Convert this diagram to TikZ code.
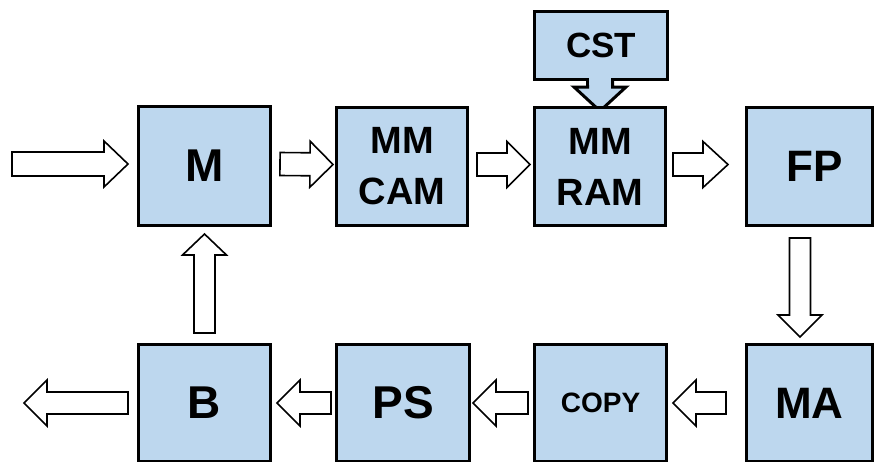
\documentclass[tikz,border=0pt]{standalone}
\usepackage{fontspec}
\setmainfont{Liberation Sans}
\usetikzlibrary{calc}
\definecolor{boxblue}{RGB}{189,215,238}

\tikzset{
  box/.style={draw=black, line width=3pt, fill=boxblue, rectangle, inner sep=0pt,
              font=\bfseries, align=center},
  % shaft half width, head half width, head length
  arrow dims/.code n args={3}{%
    \pgfmathsetmacro\baW{#1}%
    \pgfmathsetmacro\baRa{sqrt((#3)*(#3)+(#1)*(#1))}%
    \pgfmathsetmacro\baAa{atan((#1)/(#3))}%
    \pgfmathsetmacro\baRb{sqrt((#3)*(#3)+(#2)*(#2))}%
    \pgfmathsetmacro\baAb{atan((#2)/(#3))}},
  blockarrow/.style n args={3}{arrow dims={#1}{#2}{#3},
    to path={
      ($(\tikztostart)!\baW pt!90:(\tikztotarget)$)
      -- ($(\tikztotarget)!\baRa pt!-\baAa:(\tikztostart)$)
      -- ($(\tikztotarget)!\baRb pt!-\baAb:(\tikztostart)$)
      -- (\tikztotarget)
      -- ($(\tikztotarget)!\baRb pt!\baAb:(\tikztostart)$)
      -- ($(\tikztotarget)!\baRa pt!\baAa:(\tikztostart)$)
      -- ($(\tikztostart)!\baW pt!-90:(\tikztotarget)$)
      -- cycle}},
  flow/.style={draw=black, fill=white, line width=1.6pt, line join=miter},
}

\begin{document}
\begin{tikzpicture}[x=1pt, y=-1pt]
\useasboundingbox (0,0) rectangle (874,461);
\clip (0,0) rectangle (874,461);

% upper row
\node[box, minimum width=132, minimum height=119, font=\bfseries\fontsize{46}{46}\selectfont]
  (M) at (204.5,166) {M};
\node[box, minimum width=131, minimum height=118, font=\bfseries\fontsize{38}{51}\selectfont]
  (CAM) at (402,166.5) {MM\\CAM};
\node[box, minimum width=126, minimum height=118, font=\bfseries\fontsize{44}{44}\selectfont]
  (FP) at (809.5,166.5) {\hspace*{10pt}FP};

% CST feeding into MM RAM through a filled arrow joined to its lower edge
\node[box, minimum width=133, minimum height=68, font=\bfseries\fontsize{35}{35}\selectfont]
  (CST) at (601,45.5) {CST};
\coordinate (cstA) at ($(CST.south)+(-1,-1.5)$);
\coordinate (cstB) at ($(CST.south)+(-1,30)$);
\draw[draw=black, fill=boxblue, line width=3pt, line join=miter, blockarrow={12.5}{26}{24}]
  (cstA) to (cstB);
\fill[boxblue] ($(CST.south)+(-12,-5)$) rectangle ($(CST.south)+(10,4)$);
\node[box, minimum width=131, minimum height=118, font=\bfseries\fontsize{38}{51}\selectfont]
  (RAM) at (600,166.5) {MM\\RAM};

% lower row
\node[box, minimum width=132, minimum height=117, font=\bfseries\fontsize{46}{46}\selectfont]
  (B) at (204.5,403) {B};
\node[box, minimum width=133, minimum height=117, font=\bfseries\fontsize{46}{46}\selectfont]
  (PS) at (403,403) {PS};
\node[box, minimum width=132, minimum height=117, font=\bfseries\fontsize{28}{28}\selectfont]
  (COPY) at (600.5,403) {COPY};
\node[box, minimum width=126, minimum height=117, font=\bfseries\fontsize{44}{44}\selectfont]
  (MA) at (809.5,403) {MA};

% arrow end points
\coordinate (inS)  at (12,164);
\coordinate (inE)  at ($(M.west)+(-9,-2)$);
\coordinate (m1S)  at ($(M.east)+(8,-2)$);
\coordinate (m1E)  at ($(CAM.west)+(-2,-2)$);
\coordinate (c1S)  at ($(CAM.east)+(8,-2)$);
\coordinate (c1E)  at ($(RAM.west)+(-3,-2)$);
\coordinate (r1S)  at ($(RAM.east)+(6,-2)$);
\coordinate (r1E)  at ($(FP.west)+(-17,-2)$);
\coordinate (f1S)  at ($(FP.south)+(-9.5,11)$);
\coordinate (f1E)  at ($(MA.north)+(-9.5,-6)$);
\coordinate (a1S)  at ($(MA.west)+(-19,0)$);
\coordinate (a1E)  at ($(COPY.east)+(5,0)$);
\coordinate (k1S)  at ($(COPY.west)+(-5,0)$);
\coordinate (k1E)  at ($(PS.east)+(2,0)$);
\coordinate (p1S)  at ($(PS.west)+(-4,0)$);
\coordinate (p1E)  at ($(B.east)+(5,0)$);
\coordinate (outS) at ($(B.west)+(-9,0)$);
\coordinate (outE) at (24,403);
\coordinate (b1S)  at ($(B.north)+(0,-10)$);
\coordinate (b1E)  at ($(M.south)+(0,7)$);

% hollow flow arrows
\draw[flow, blockarrow={12}{23}{24}]   (inS) to (inE);
\draw[flow, blockarrow={11.5}{23}{23}] (m1S) to (m1E);
\draw[flow, blockarrow={11.5}{23}{23}] (c1S) to (c1E);
\draw[flow, blockarrow={11.5}{23}{25}] (r1S) to (r1E);
\draw[flow, blockarrow={10.5}{22}{22}] (f1S) to (f1E);
\draw[flow, blockarrow={11}{23}{23}]   (a1S) to (a1E);
\draw[flow, blockarrow={11}{23}{23}]   (k1S) to (k1E);
\draw[flow, blockarrow={11}{23}{23}]   (p1S) to (p1E);
\draw[flow, blockarrow={11}{23}{23}]   (outS) to (outE);
\draw[flow, blockarrow={10.5}{22}{21}] (b1S) to (b1E);
\end{tikzpicture}
\end{document}
